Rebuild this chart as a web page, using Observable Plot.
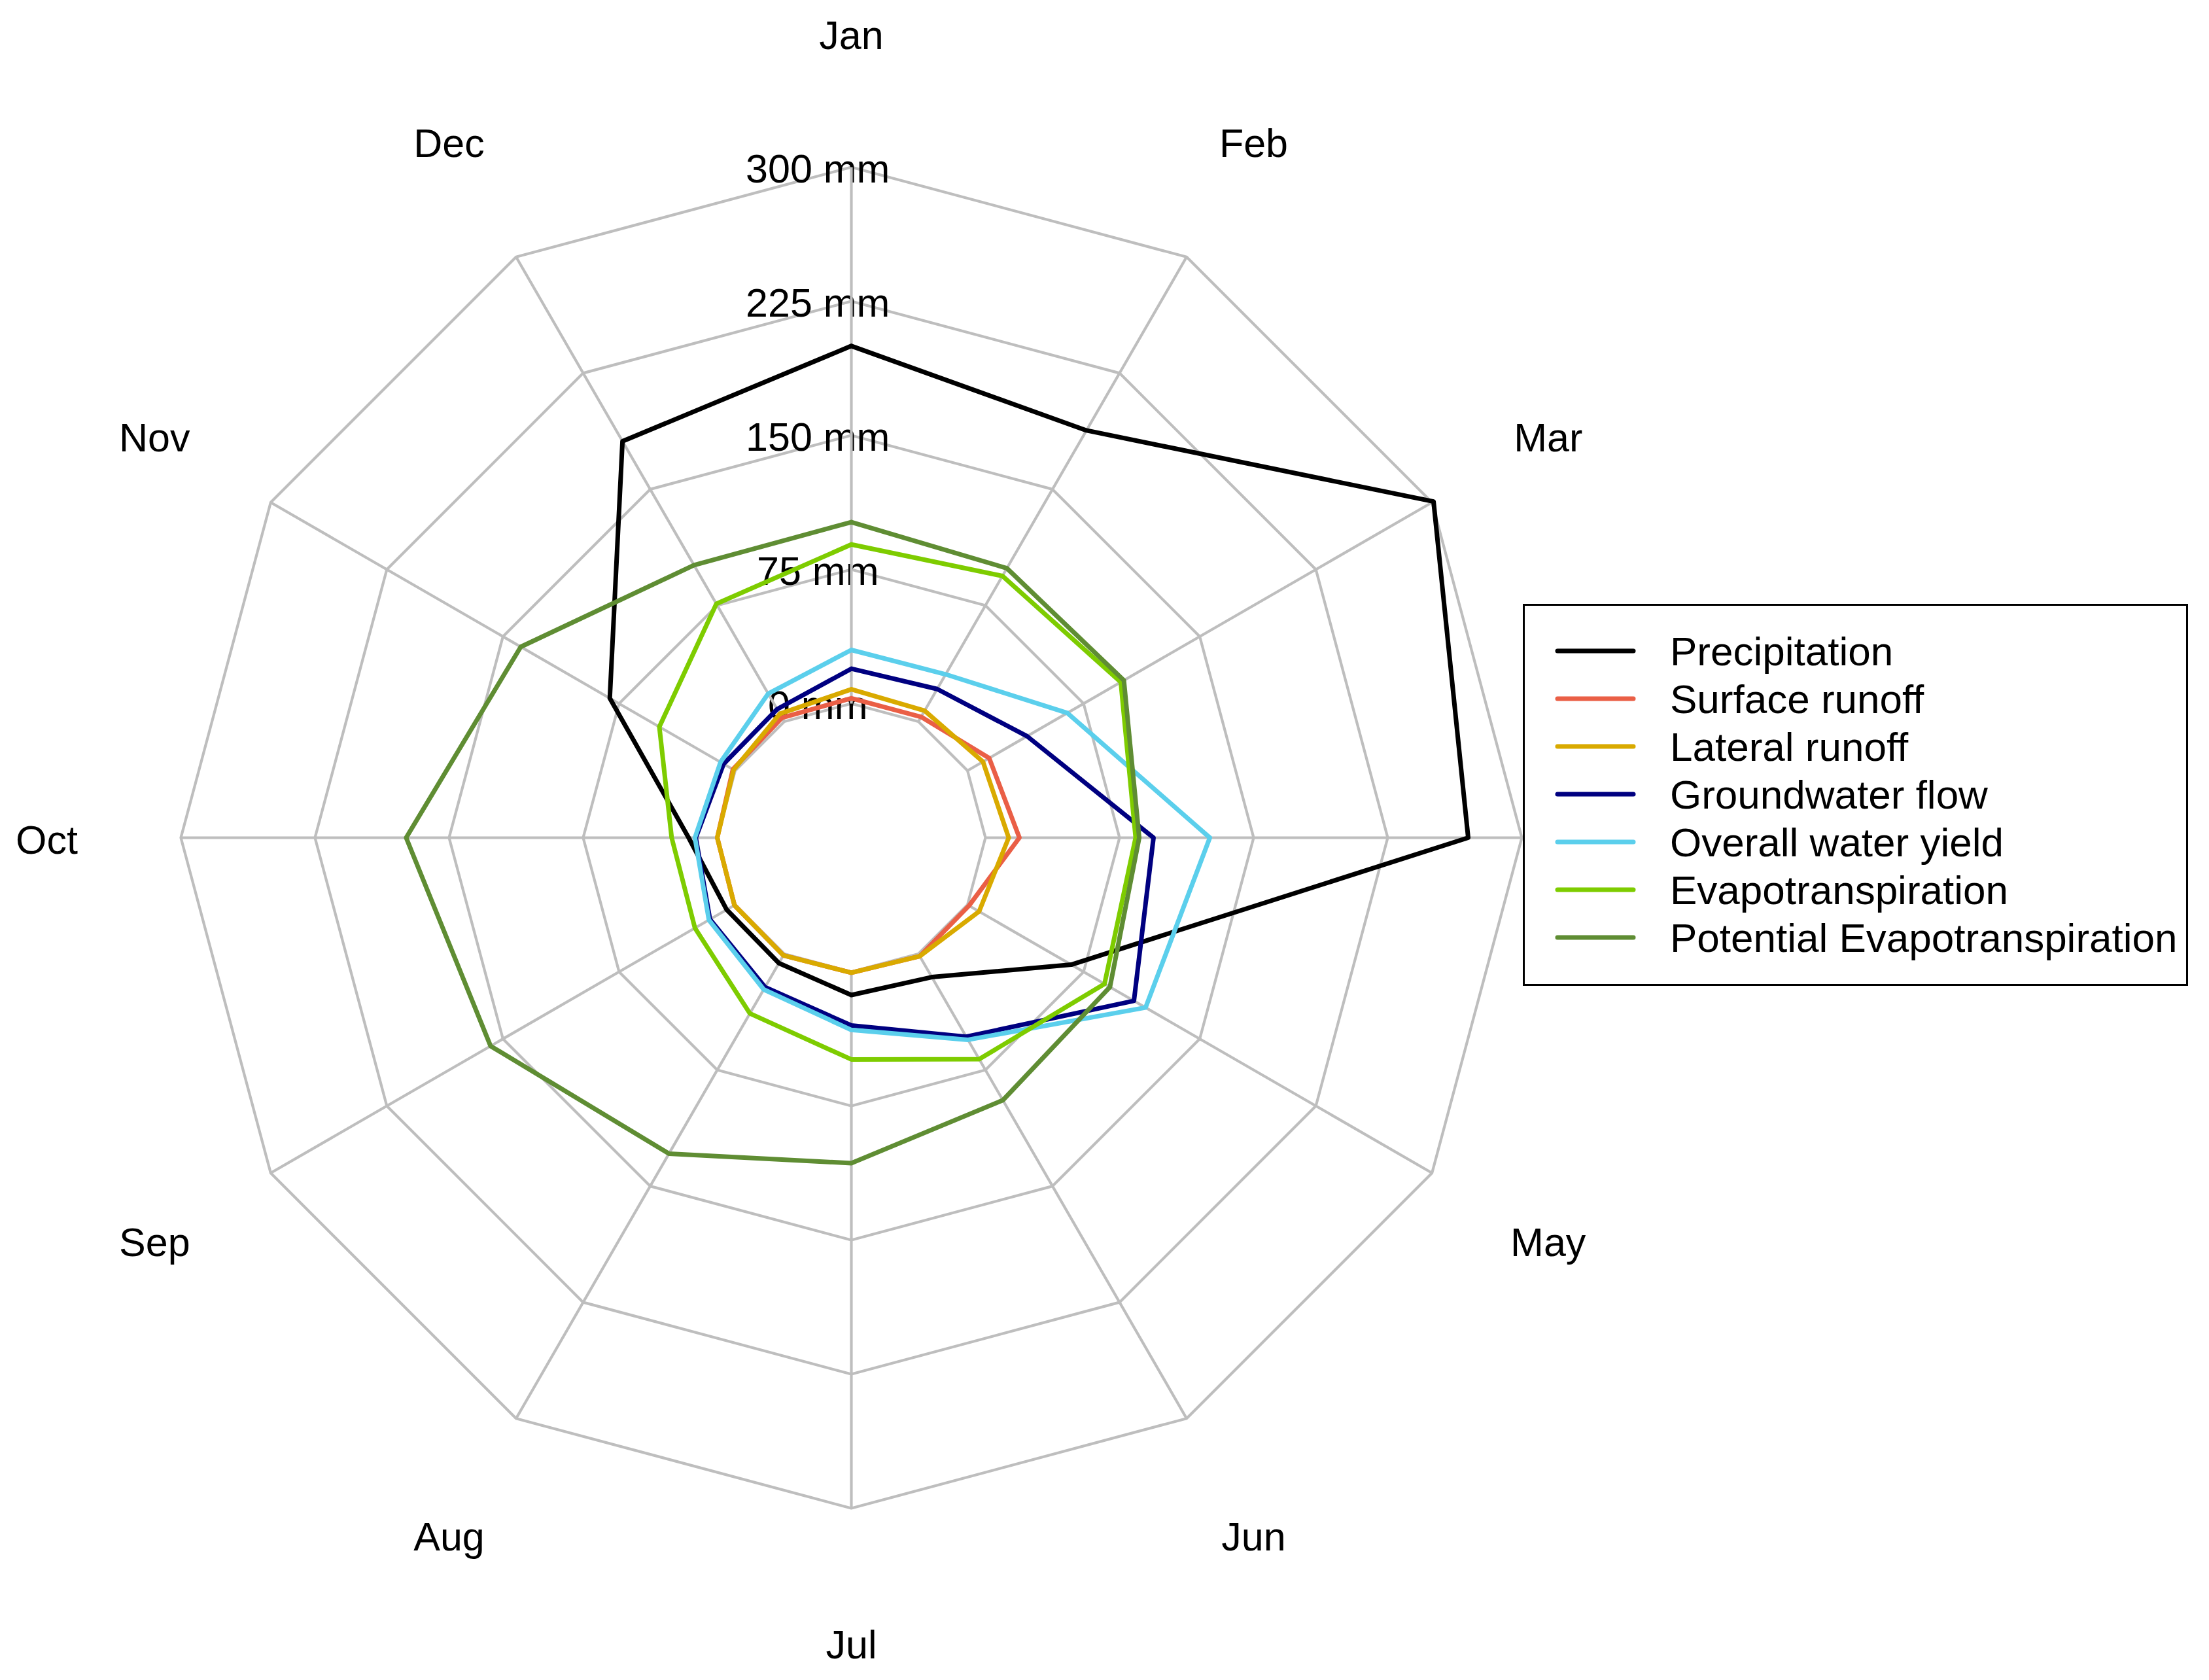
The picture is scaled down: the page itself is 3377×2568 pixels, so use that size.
<!DOCTYPE html>
<html><head><meta charset="utf-8">
<script src="https://cdn.jsdelivr.net/npm/d3@7"></script>
<script src="https://cdn.jsdelivr.net/npm/@observablehq/plot@0.6"></script>
<style>
html,body{margin:0;padding:0;background:#fff;}
#wrap{position:relative;width:3377px;height:2568px;font-family:"Liberation Sans",Arial,sans-serif;background:#fff;}
#legend{position:absolute;left:2328px;top:923px;width:1017px;height:584px;box-sizing:border-box;border:3px solid #000;background:#fff;}
.row{position:absolute;left:0;height:73px;display:flex;align-items:center;font-size:62px;color:#000;white-space:nowrap;}
.row svg{margin-left:43px;margin-right:49px;}
</style></head><body><div id="wrap"></div>
<script>
// ---- data (mm per month) ----
const months = ["Jan","Feb","Mar","Apr","May","Jun","Jul","Aug","Sep","Oct","Nov","Dec"];
const precipitation   = [200, 188, 301, 270, 67, 15, 13, 6, 5.5, 16, 81, 181];
const surfaceRunoff   = [3, 3, 14, 19, 1, 1.5, 0.5, 1, 0.5, 0, 1.5, 2.5];
const lateralRunoff   = [8, 7, 10, 13, 7.5, 1.5, 0.5, 1, 0.5, 0, 1, 5];
const groundwaterFlow = [19.5, 21, 38.5, 94, 107.5, 53.5, 30, 21.5, 16.3, 12, 7.5, 8];
const waterYield      = [30, 30.5, 64.5, 125.5, 115, 55.5, 32.5, 23, 17, 12.5, 9.5, 18];
const evapotranspiration = [89, 94, 99, 84, 88.5, 68, 49, 38.5, 26, 25.5, 49, 76];
const potentialET     = [101.5, 99, 101, 86, 92, 94.5, 107, 129, 158, 174, 138.5, 101];
const seriesNames = ["Precipitation","Surface runoff","Lateral runoff","Groundwater flow","Overall water yield","Evapotranspiration","Potential Evapotranspiration"];
const seriesValues = [precipitation, surfaceRunoff, lateralRunoff, groundwaterFlow, waterYield, evapotranspiration, potentialET];
const seriesColors = ["#000000","#EA5F46","#D9AA00","#000080","#5BCFEC","#7ECC00","#5F8D33"];
const ringLevels = [0, 75, 150, 225, 300];
const ringLabels = ["0 mm","75 mm","150 mm","225 mm","300 mm"];

// ---- layout ----
const W = 3377, H = 2568, cx = 1301, cy = 1280, R = 1025;
const rad = d3.scaleLinear().domain([0, 300]).range([0.2, 1]);
const ang = i => i * Math.PI / 6;

const rows = [];
seriesNames.forEach((s, k) => {
  for (let i = 0; i <= months.length; i++) {
    const j = i % months.length;
    rows.push({series: s, month: months[j], value: seriesValues[k][j], idx: j});
  }
});
const ringRows = [];
ringLevels.forEach(l => {
  for (let i = 0; i <= months.length; i++) ringRows.push({level: l, idx: i % months.length});
});

const plot = Plot.plot({
  width: W, height: H,
  margin: 0,
  x: {domain: [-cx / R, (W - cx) / R], axis: null},
  y: {domain: [-(H - cy) / R, cy / R], axis: null},
  color: {domain: seriesNames, range: seriesColors},
  style: {fontFamily: '"Liberation Sans", Arial, sans-serif', background: "#fff"},
  marks: [
    Plot.line(ringRows, {
      x: d => rad(d.level) * Math.sin(ang(d.idx)),
      y: d => rad(d.level) * Math.cos(ang(d.idx)),
      z: "level", stroke: "#BEBEBE", strokeWidth: 4.2, strokeLinejoin: "round"
    }),
    Plot.text(ringLevels, {
      x: -0.05, y: d => rad(d), text: (d, i) => ringLabels[i],
      fontSize: 61, fill: "#000", dy: 4
    }),
    Plot.link(months, {
      x1: (d, i) => rad(0) * Math.sin(ang(i)), y1: (d, i) => rad(0) * Math.cos(ang(i)),
      x2: (d, i) => rad(300) * Math.sin(ang(i)), y2: (d, i) => rad(300) * Math.cos(ang(i)),
      stroke: "#BEBEBE", strokeWidth: 4.2
    }),
    Plot.line(rows, {
      x: d => rad(d.value) * Math.sin(ang(d.idx)),
      y: d => rad(d.value) * Math.cos(ang(d.idx)),
      z: "series", stroke: "series", strokeWidth: 7,
      strokeLinejoin: "round", strokeLinecap: "round"
    }),
    Plot.text(months, {
      x: (d, i) => 1.2 * Math.sin(ang(i)), y: (d, i) => 1.2 * Math.cos(ang(i)),
      text: d => d, fontSize: 61, fill: "#000", dy: 5
    })
  ]
});
const wrap = document.getElementById("wrap");
wrap.appendChild(plot);

// ---- legend ----
const leg = document.createElement("div");
leg.id = "legend";
seriesNames.forEach((s, i) => {
  const row = document.createElement("div");
  row.className = "row";
  row.style.top = (995 - 923 - 3 - 36.5 + i * 73) + "px";
  row.innerHTML = `<svg width="130" height="20"><line x1="7" y1="10" x2="123" y2="10" stroke="${seriesColors[i]}" stroke-width="7" stroke-linecap="round"/></svg><span>${s}</span>`;
  leg.appendChild(row);
});
wrap.appendChild(leg);
</script>
</body></html>
